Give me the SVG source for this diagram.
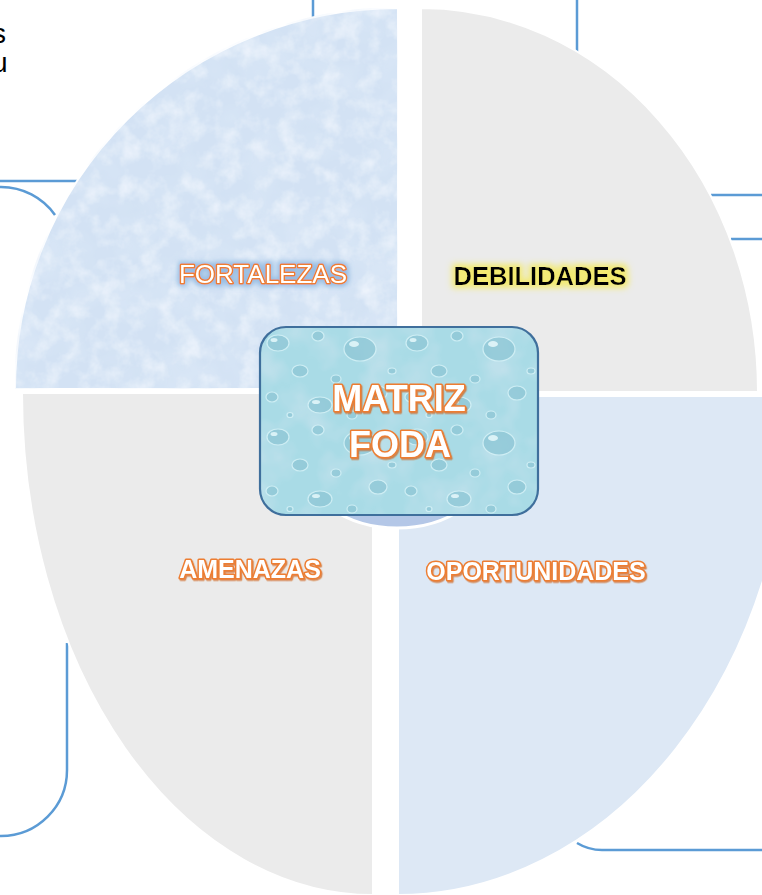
<svg xmlns="http://www.w3.org/2000/svg" width="762" height="895" viewBox="0 0 762 895">
<style>
  .box { fill: none; stroke: #5b9bd5; stroke-width: 2.5; stroke-linecap: butt; }
  .quad { stroke: #ffffff; stroke-width: 2; }
  .lbl { font-family: "Liberation Sans", Arial, sans-serif; text-anchor: middle; }
  .orange { fill: #ffffff; stroke: #ed7d31; stroke-width: 3; paint-order: stroke; stroke-linejoin: round; }
  .side { font-family: "Liberation Sans", Arial, sans-serif; font-size: 28px; fill: #000000; }
  .drop { fill: #8fc7d6; stroke: #d6f2f7; stroke-width: 1.2; }
  .hl { fill: #e4f7fa; }
</style>
<defs>
  <filter id="frost" x="0" y="0" width="1" height="1">
    <feTurbulence type="fractalNoise" baseFrequency="0.05" numOctaves="4" seed="7" result="n"/>
    <feColorMatrix in="n" type="matrix" values="0 0 0 0 0.93  0 0 0 0 0.96  0 0 0 0 1  0 0 0 1.3 -0.55" result="c"/>
    <feComposite in="c" in2="SourceGraphic" operator="in" result="t"/>
    <feTurbulence type="fractalNoise" baseFrequency="0.025" numOctaves="3" seed="21" result="n2"/>
    <feColorMatrix in="n2" type="matrix" values="0 0 0 0 0.74  0 0 0 0 0.83  0 0 0 0 0.94  0 0 0 1.2 -0.5" result="c2"/>
    <feComposite in="c2" in2="SourceGraphic" operator="in" result="t2"/>
    <feMerge><feMergeNode in="SourceGraphic"/><feMergeNode in="t2"/><feMergeNode in="t"/></feMerge>
  </filter>
  <filter id="water" x="0" y="0" width="1" height="1">
    <feTurbulence type="fractalNoise" baseFrequency="0.025" numOctaves="3" seed="4" result="n"/>
    <feColorMatrix in="n" type="matrix" values="0 0 0 0 0.55  0 0 0 0 0.76  0 0 0 0 0.84  0 0 0 2.0 -0.85" result="c"/>
    <feComposite in="c" in2="SourceGraphic" operator="in" result="t"/>
    <feMerge><feMergeNode in="SourceGraphic"/><feMergeNode in="t"/></feMerge>
  </filter>
  <filter id="blueGlow" x="-20%" y="-40%" width="140%" height="180%">
    <feMorphology in="SourceAlpha" operator="dilate" radius="2" result="d"/>
    <feGaussianBlur in="d" stdDeviation="2.5" result="b"/>
    <feFlood flood-color="#8fb8e0" flood-opacity="0.9"/>
    <feComposite in2="b" operator="in" result="g"/>
    <feMerge><feMergeNode in="g"/><feMergeNode in="SourceGraphic"/></feMerge>
  </filter>
  <filter id="yellowGlow" x="-20%" y="-50%" width="140%" height="200%">
    <feMorphology in="SourceAlpha" operator="dilate" radius="3" result="d"/>
    <feGaussianBlur in="d" stdDeviation="3" result="b"/>
    <feFlood flood-color="#f3ea6a" flood-opacity="0.95"/>
    <feComposite in2="b" operator="in" result="g"/>
    <feMerge><feMergeNode in="g"/><feMergeNode in="SourceGraphic"/></feMerge>
  </filter>
  <filter id="orangeShadow" x="-10%" y="-30%" width="120%" height="160%">
    <feDropShadow dx="1.2" dy="1.5" stdDeviation="0.6" flood-color="#d0641c" flood-opacity="0.7"/>
  </filter>
  <pattern id="drops" width="139" height="94" patternUnits="userSpaceOnUse" x="260" y="327">
    <ellipse class="drop" cx="18" cy="16" rx="11" ry="8"/>
    <ellipse class="hl" cx="14" cy="13" rx="3.5" ry="2"/>
    <ellipse class="drop" cx="58" cy="9" rx="6" ry="5"/>
    <ellipse class="drop" cx="100" cy="22" rx="16" ry="12"/>
    <ellipse class="hl" cx="94" cy="17" rx="5" ry="3"/>
    <ellipse class="drop" cx="40" cy="44" rx="8" ry="6"/>
    <ellipse class="drop" cx="76" cy="52" rx="5" ry="4"/>
    <ellipse class="drop" cx="12" cy="70" rx="6" ry="5"/>
    <ellipse class="drop" cx="60" cy="78" rx="12" ry="8"/>
    <ellipse class="hl" cx="56" cy="75" rx="4" ry="2"/>
    <ellipse class="drop" cx="118" cy="66" rx="9" ry="7"/>
    <ellipse class="drop" cx="132" cy="44" rx="4" ry="3"/>
    <ellipse class="drop" cx="92" cy="88" rx="5" ry="4"/>
    <ellipse class="drop" cx="30" cy="88" rx="3" ry="2.5"/>
  </pattern>
</defs>

<rect width="762" height="895" fill="#ffffff"/>

<text class="side" x="-8" y="43">s</text>
<text class="side" x="-8" y="72">u</text>

<g id="outline-boxes">
  <path class="box" d="M313,0 V18"/>
  <path class="box" d="M0,181 H77"/>
  <path class="box" d="M0,187 H1 A66,66 0 0 1 55,215"/>
  <path class="box" d="M67,643 V770 A66,66 0 0 1 1,836 H0"/>
  <path class="box" d="M577,0 V52"/>
  <path class="box" d="M711,195 H762"/>
  <path class="box" d="M731,239 H762"/>
  <path class="box" d="M577,843 A48,48 0 0 0 602,850 H762"/>
</g>

<g id="node-fortalezas">
  <path class="quad" d="M398,389 H15 A383,381 0 0 1 398,8 Z" fill="#d3e2f4" filter="url(#frost)"/>
  <text class="lbl orange" x="263" y="283" font-size="26" filter="url(#blueGlow)">FORTALEZAS</text>
</g>

<g id="node-debilidades">
  <path class="quad" d="M421,392 V8 A337,384 0 0 1 758,392 Z" fill="#ebebeb"/>
  <text class="lbl" x="540" y="285" font-size="25.5" font-weight="bold" fill="#000000" filter="url(#yellowGlow)">DEBILIDADES</text>
</g>

<g id="node-amenazas">
  <path class="quad" d="M373,393 H22 A351,502 0 0 0 373,895 Z" fill="#ebebeb"/>
  <text class="lbl orange" x="250" y="578" font-size="25" font-weight="bold" filter="url(#orangeShadow)">AMENAZAS</text>
</g>

<g id="node-oportunidades">
  <path class="quad" d="M398,396 H791 A393,499 0 0 1 398,895 Z" fill="#dde8f5"/>
  <text class="lbl orange" x="536" y="580" font-size="25" font-weight="bold" filter="url(#orangeShadow)">OPORTUNIDADES</text>
</g>

<g id="node-center">
  <ellipse cx="397" cy="460" rx="94" ry="68" fill="#b4c7e7" stroke="#ffffff" stroke-width="3"/>
  <rect x="260" y="327" width="278" height="188" rx="26" ry="26" fill="#a9dbe6" filter="url(#water)"/>
  <rect x="260" y="327" width="278" height="188" rx="26" ry="26" fill="url(#drops)" opacity="0.8"/>
  <rect x="260" y="327" width="278" height="188" rx="26" ry="26" fill="none" stroke="#3f6f9c" stroke-width="2.2"/>
  <text class="lbl orange" x="399" y="411" font-size="36" font-weight="bold" filter="url(#orangeShadow)">MATRIZ</text>
  <text class="lbl orange" x="400" y="457" font-size="36" font-weight="bold" filter="url(#orangeShadow)">FODA</text>
</g>
</svg>
